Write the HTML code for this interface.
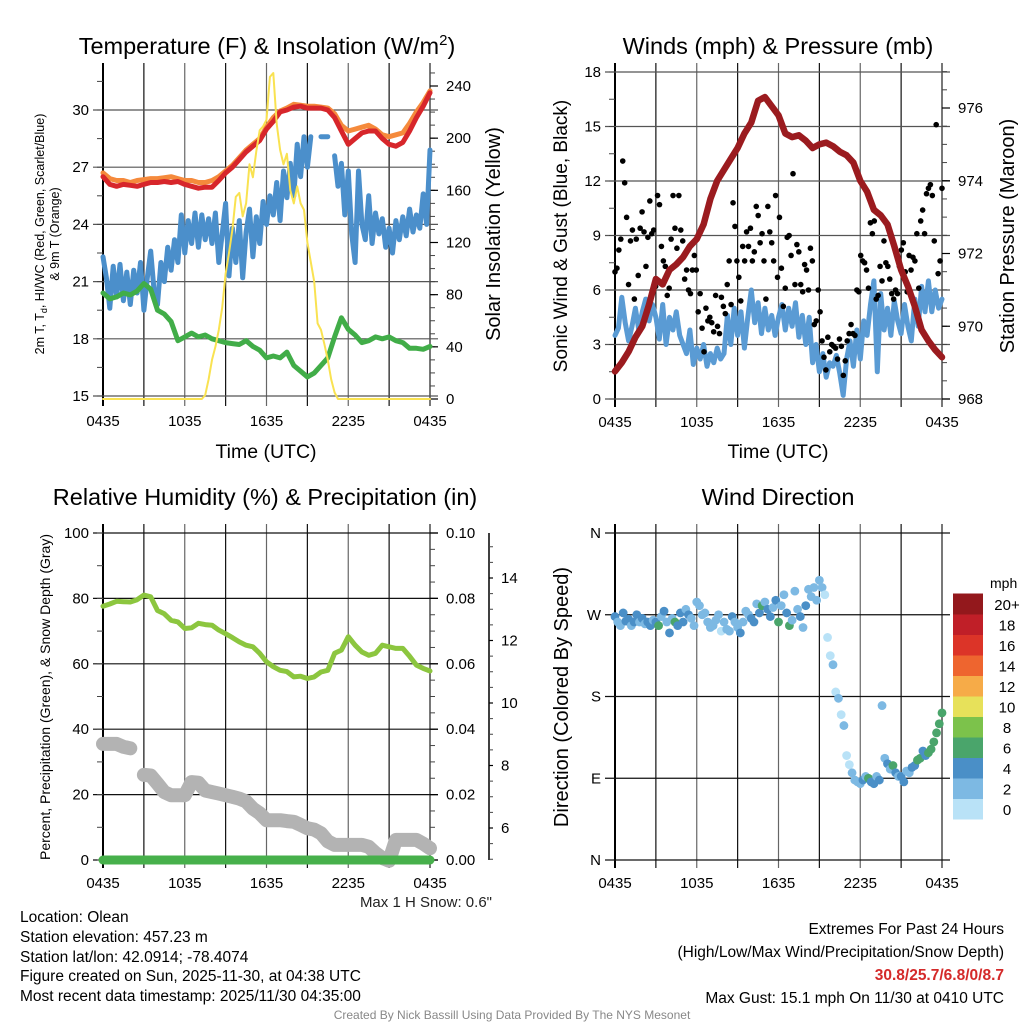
<!DOCTYPE html>
<html><head><meta charset="utf-8">
<style>
html,body{margin:0;padding:0;background:#fff;}
svg{display:block;font-family:"Liberation Sans",sans-serif;}
</style></head>
<body>
<svg id="c" width="1024" height="1024" viewBox="0 0 1024 1024">
<rect x="0" y="0" width="1024" height="1024" fill="#fff"/>
<text x="267" y="54" font-size="23.5" text-anchor="middle">Temperature (F) &amp; Insolation (W/m<tspan dy="-9" font-size="15">2</tspan><tspan dy="9">)</tspan></text>
<text x="778" y="54" font-size="23.5" text-anchor="middle">Winds (mph) &amp; Pressure (mb)</text>
<text x="265" y="505" font-size="23.5" text-anchor="middle">Relative Humidity (%) &amp; Precipitation (in)</text>
<text x="778" y="505" font-size="23.5" text-anchor="middle">Wind Direction</text>

<text x="266" y="458" font-size="19.5" text-anchor="middle">Time (UTC)</text>
<text x="778" y="458" font-size="19.5" text-anchor="middle">Time (UTC)</text>
<text transform="translate(44,234) rotate(-90)" font-size="12.5" text-anchor="middle">2m T, T<tspan dy="3" font-size="9">d</tspan><tspan dy="-3">, HI/WC (Red, Green, Scarlet/Blue)</tspan></text>
<text transform="translate(59,234) rotate(-90)" font-size="12.5" text-anchor="middle">&amp; 9m T (Orange)</text>
<text transform="translate(500,234) rotate(-90)" font-size="20" text-anchor="middle">Solar Insolation (Yellow)</text>
<text transform="translate(567,236) rotate(-90)" font-size="19" text-anchor="middle">Sonic Wind &amp; Gust (Blue, Black)</text>
<text transform="translate(1014,236) rotate(-90)" font-size="20" text-anchor="middle">Station Pressure (Maroon)</text>
<text transform="translate(50,697) rotate(-90)" font-size="14" text-anchor="middle">Percent, Precipitation (Green), &amp; Snow Depth (Gray)</text>
<text transform="translate(568,697) rotate(-90)" font-size="20" text-anchor="middle">Direction (Colored By Speed)</text>

<g id="layer"></g>

<text x="492" y="907" font-size="15" text-anchor="end" fill="#222">Max 1 H Snow: 0.6"</text>
<g font-size="15.5">
<text x="20" y="922">Location: Olean</text>
<text x="20" y="942">Station elevation: 457.23 m</text>
<text x="20" y="962">Station lat/lon: 42.0914; -78.4074</text>
<text x="20" y="981">Figure created on Sun, 2025-11-30, at 04:38 UTC</text>
<text x="20" y="1001">Most recent data timestamp: 2025/11/30 04:35:00</text>
</g>
<g font-size="15.5" text-anchor="end">
<text x="1004" y="934">Extremes For Past 24 Hours</text>
<text x="1004" y="957">(High/Low/Max Wind/Precipitation/Snow Depth)</text>
<text x="1004" y="980" fill="#d42a2a" font-weight="bold">30.8/25.7/6.8/0/8.7</text>
<text x="1004" y="1003">Max Gust: 15.1 mph On 11/30 at 0410 UTC</text>
</g>
<text x="512" y="1019" font-size="12" text-anchor="middle" fill="#888">Created By Nick Bassill Using Data Provided By The NYS Mesonet</text>
</svg>
<script>
// ---- Panel 1 data ----
const timeTickLabels = ["0435","1035","1635","2235","0435"];
const p1LeftTicks = [15,18,21,24,27,30];
const p1RightTicks = [0,40,80,120,160,200,240];
const tempRed = [26.5,26.1,26.0,26.1,26.05,26.0,26.1,26.2,26.2,26.25,26.2,26.25,26.1,26.0,25.9,25.95,25.95,26.3,26.7,27.0,27.4,27.8,28.1,28.4,29.0,29.4,29.9,30.0,30.15,30.2,30.1,30.1,30.1,30.0,29.6,28.9,28.2,28.5,28.8,28.9,28.9,28.5,28.2,28.1,28.3,28.9,29.6,30.2,30.9];
const temp9mOrange = [26.7,26.4,26.3,26.3,26.2,26.3,26.35,26.4,26.4,26.45,26.5,26.4,26.3,26.3,26.2,26.2,26.3,26.5,26.8,27.1,27.5,27.9,28.2,28.5,29.1,29.6,29.95,30.1,30.3,30.25,30.2,30.2,30.15,30.1,29.8,29.2,28.9,29.0,29.1,29.2,29.0,28.7,28.6,28.7,28.8,29.3,29.9,30.4,31.0];
const windChillBlue = [22.3,21.2,19.6,21.8,20.2,21.9,20.0,21.5,19.8,21.6,20.4,22.0,19.5,21.2,22.6,20.5,19.8,22.0,21.0,22.8,21.6,23.2,22.0,24.5,22.5,24.2,23.0,24.6,22.8,24.5,23.2,24.3,23.0,24.6,22.0,23.5,25.1,21.3,23.8,22.0,24.2,21.2,23.6,24.8,22.3,24.4,23.0,25.2,24.0,25.5,24.5,26.2,24.2,26.8,25.4,27.2,25.5,28.2,26.5,28.6,27.0,28.6,null,null,28.6,28.6,28.6,null,27.6,26.0,27.2,24.5,26.8,23.5,22.0,26.8,24.0,23.2,25.5,23.0,24.6,23.5,24.3,22.8,23.8,22.5,24.2,23.2,24.4,23.4,24.8,23.6,24.5,23.8,25.6,24.0,27.9];
const dewGreen = [20.4,20.1,20.2,20.4,20.3,20.5,20.9,20.6,19.5,19.3,18.9,17.9,18.1,18.3,18.1,18.2,18.0,17.9,17.8,17.75,17.7,17.9,17.6,17.4,17.0,17.1,17.0,17.3,16.6,16.3,16.0,16.2,16.6,17.0,18.1,19.1,18.5,18.2,17.8,17.9,18.1,18.0,18.1,17.9,17.8,17.5,17.5,17.45,17.6];
const insolation = [0,0,0,0,0,0,0,0,0,0,0,0,0,0,0,0,0,0,0,0,0,0,0,0,0,0,0,0,0,0,3,15,30,40,53,70,96,112,130,155,158,140,150,180,170,190,206,209,214,247,250,211,191,180,188,160,150,163,150,145,120,105,90,58,53,42,30,15,5,0,0,0,0,0,0,0,0,0,0,0,0,0,0,0,0,0,0,0,0,0,0,0,0,0,0,0,0];
// ---- Panel 2 data ----
const p2LeftTicks = [0,3,6,9,12,15,18];
const p2RightTicks = [968,970,972,974,976];
const pressure = [968.76,969.0,969.3,969.7,970.0,970.6,971.3,971.15,971.55,971.7,971.9,972.2,972.4,972.8,973.5,974.0,974.3,974.6,974.9,975.3,975.6,976.2,976.3,976.05,975.8,975.3,975.2,975.25,975.1,974.9,975.0,975.05,974.95,974.8,974.7,974.5,974.0,973.7,973.2,973.05,972.8,972.2,971.55,971.1,970.55,969.9,969.6,969.35,969.15];
const windSpeed = [3.5,3.9,5.6,4.2,3.2,4.0,5.0,3.8,4.8,5.5,4.3,5.2,4.5,3.3,5.2,3.0,4.5,3.8,4.8,3.5,3.0,2.5,3.8,1.9,2.8,2.2,3.0,1.8,2.5,2.0,2.8,2.2,2.5,4.6,3.0,5.0,3.5,4.8,2.8,4.5,6.0,4.2,5.3,3.6,5.0,3.8,4.6,3.5,4.5,5.2,3.8,5.0,4.0,5.3,3.4,4.6,3.0,4.5,2.0,3.0,1.5,2.5,1.2,2.0,1.8,2.4,1.4,0.2,2.2,3.2,1.8,3.8,2.2,4.3,3.5,5.2,6.5,1.5,5.8,3.8,5.0,3.5,5.4,4.3,3.6,5.2,4.0,3.2,5.5,4.0,6.2,4.8,6.5,4.8,6.0,5.0,5.5];
const windGust = [7,7.2,8.2,8.8,13.1,11.9,10,6.3,8.7,9.3,5.5,8.8,6.8,9.4,10.3,9.2,7.3,8.9,10.9,9.1,9.3,6.2,11.2,10.7,8.4,7.6,7.3,5.7,6.1,8.8,11.2,9.4,8.3,11.2,9.3,8.7,6.6,7.1,6,5.8,7.1,7.9,7.1,4.8,5.8,3.9,2.6,5,4.3,4.5,4.2,3.7,5.7,4,3.6,5.6,5.1,4.7,6.3,7.6,5.2,10.8,9.5,7.6,6.7,5.4,8.4,7.6,9.2,8.4,9.4,7.6,8.1,10.6,10.1,8.6,9.1,7.6,5.5,10.6,9.2,8.6,7.6,11.2,6.7,10,7.2,5.1,6.1,8.9,9,7.9,12.4,6.3,8.5,8.1,6.3,5.9,7.4,7.1,6.0,8.3,7.6,4.1,4.3,6.0,4.8,3.2,2.3,1.6,3.4,2.6,3.0,2.9,2.8,2.2,3.3,2.9,1.3,2.1,3.2,3.6,4.1,3.6,3.5,6.0,5.9,7.9,7.6,7.5,7.1,6.1,9.7,9.1,9.8,5.5,5.7,7.3,6.5,8.7,7.5,7.3,6.6,5.8,5.5,6.0,5.8,7.3,8.2,8.6,7.0,5.9,7.9,7.1,7.8,7.6,9.1,6.1,9.8,10.4,9.1,11.3,11.6,11.8,11.2,8.7,15.1,6.9,7.6,11.6];
// ---- Panel 3 data ----
const p3LeftTicks = [0,20,40,60,80,100];
const p3RightTicks = ["0.00","0.02","0.04","0.06","0.08","0.10"];
const snowTicks = [6,8,10,12,14];
const relHumidity = [77.6,78.3,79.1,79.0,78.9,79.6,81.0,80.5,76.3,75.3,73.3,72.8,70.8,71.0,72.4,72.0,71.8,70.3,69.2,68.0,66.7,65.7,65.2,63.2,60.6,59.1,58.0,57.6,56.0,56.2,55.5,56.0,57.5,58.0,63.2,64.2,68.3,65.7,63.6,62.6,63.2,65.7,65.2,64.7,64.7,62.3,59.6,58.6,57.8];
const snowDepth = [8.69,8.69,8.69,8.6,8.55,null,7.7,7.68,7.42,7.15,7.05,7.05,7.05,7.47,7.45,7.2,7.15,7.1,7.05,7.0,6.94,6.85,6.62,6.47,6.25,6.25,6.25,6.22,6.2,6.1,5.99,5.95,5.83,5.57,5.46,5.46,5.46,5.46,5.46,5.4,5.2,5.04,4.95,5.62,5.62,5.62,5.62,5.5,5.35];
const precip = [0,0,0,0,0,0,0,0,0,0,0,0,0,0,0,0,0,0,0,0,0,0,0,0,0,0,0,0,0,0,0,0,0,0,0,0,0,0,0,0,0,0,0,0,0,0,0,0,0];
// ---- Panel 4 data ----
const dirTickLabels = ["N","E","S","W","N"];
const windDir = [268,262,258,272,263,265,258,262,270,262,266,260,262,258,264,262,258,268,274,262,250,266,262,258,272,262,276,270,266,258,284,280,270,272,262,256,258,264,270,252,262,254,252,268,262,256,250,262,274,270,266,262,282,272,280,284,276,268,278,286,262,280,292,272,258,264,296,276,268,256,280,298,290,300,286,308,300,292,245,225,215,185,178,160,148,115,105,96,88,86,84,88,92,90,86,84,92,88,170,112,106,100,104,96,92,92,86,98,96,102,104,110,112,120,115,118,122,130,140,150,162];
const dirSpeed = [4,3,3,4,5,4,3,4,4,3,4,3,4,5,3,4,6,3,4,3,4,3,6,4,4,4,3,4,3,2,2,3,2,3,2,3,2,3,2,1,2,2,3,4,2,2,4,3,2,3,4,5,2,4,6,3,4,4,3,4,6,2,3,4,6,3,2,3,4,2,4,3,2,3,2,3,2,1,1,1,2,1,2,1,2,1,1,2,3,2,3,4,3,6,4,4,3,4,2,3,4,3,6,4,3,4,5,3,2,4,4,6,7,5,4,6,6,7,6,7,6];
const speedLegendLabels = ["0","2","4","6","8","10","12","14","16","18","20+"];
const speedColors = ["#b9e2f7","#7db9e3","#4a8fc7","#4aa56b","#7cc24b","#e7e15a","#f6ab48","#ee652f","#dc3428","#c01f28","#93181c"];

const NS = "http://www.w3.org/2000/svg";
const layer = document.getElementById("layer");
function el(tag, attrs, parent){
  const e = document.createElementNS(NS, tag);
  for (const k in attrs) e.setAttribute(k, attrs[k]);
  (parent||layer).appendChild(e);
  return e;
}
function scale(d0,d1,r0,r1){ return v => r0 + (v-d0)*(r1-r0)/(d1-d0); }

const panels = {
  p1:{x0:103,x1:430,y0:72,y1:398},
  p2:{x0:615,x1:942,y0:72,y1:399},
  p3:{x0:103,x1:430,y0:533,y1:860},
  p4:{x0:615,x1:942,y0:533,y1:860}
};

function timeX(P){ return scale(0,24,P.x0,P.x1); }

function frame(P, key){
  const xs = timeX(P);
  for (let h=0; h<=24; h+=3){
    const x = xs(h);
    const g = el("line",{x1:x,x2:x,y1:P.y0-9,y2:P.y1+8,stroke:(h%6==0)?"#666":"#111","stroke-width":1.2});
    
    
  }
  timeTickLabels.forEach((lab,i)=>{
    const t = el("text",{x:xs(i*6),y:P.y1+28,"font-size":15,"text-anchor":"middle"});
    t.textContent = lab;
    
    
  });
  const a = el("line",{x1:P.x0,x2:P.x0,y1:P.y0-9,y2:P.y1+8,stroke:"#000","stroke-width":2});
  
  
  const b = el("line",{x1:P.x1,x2:P.x1,y1:P.y0-9,y2:P.y1+8,stroke:"#555","stroke-width":1.5});
  
  
}
function hGrid(P,key,ys,vals,labels,side,dark){
  vals.forEach((v,i)=>{
    const y = ys(v);
    const l = el("line",{x1:P.x0-10,x2:P.x1+(side?8:0),y1:y,y2:y,stroke:dark?"#111":"#555","stroke-width":1.2});
    
    
    const t = el("text",{x:P.x0-14,y:y+5,"font-size":15,"text-anchor":"end"});
    t.textContent = labels[i];
    
    
  });
}
function minorTicks(x,ys,lo,hi,step,len,key){
  for (let v=lo; v<=hi+1e-9; v+=step){
    const y = ys(v);
    const m = el("line",{x1:x,x2:x+len,y1:y,y2:y,stroke:"#444","stroke-width":1});
    
    
  }
}
function rightLabels(x,ys,vals,labels,key,len){
  vals.forEach((v,i)=>{
    const y = ys(v);
    const m = el("line",{x1:x,x2:x+len,y1:y,y2:y,stroke:"#000","stroke-width":1.2});
    
    
    const t = el("text",{x:x+len+8,y:y+5,"font-size":15});
    t.textContent = labels[i];
    
    
  });
}
function linePath(P,vals,ys){
  const xs = timeX(P);
  const n = vals.length;
  let d = "", pen = false;
  vals.forEach((v,i)=>{
    if (v===null){ pen=false; return; }
    const x = xs(i*24/(n-1)), y = ys(v);
    d += (pen?"L":"M")+x.toFixed(1)+","+y.toFixed(1);
    pen = true;
  });
  return d;
}
function series(P,vals,ys,color,w,name){
  const p = el("path",{d:linePath(P,vals,ys),fill:"none",stroke:color,"stroke-width":w,"stroke-linejoin":"round","stroke-linecap":"round"});
  
  
  return p;
}

// ===== Panel 1 =====
(function(){
  const P = panels.p1;
  const yl = scale(15,30,396,110);
  const yr = scale(0,240,399,86);
  frame(P,"p1");
  hGrid(P,"p1",yl,p1LeftTicks,p1LeftTicks.map(String),true,false);
  minorTicks(P.x0-6,yl,15,31.5,1.5,6,"p1-left");
  minorTicks(P.x1,yr,0,250,10,5,"p1-right");
  rightLabels(P.x1,yr,p1RightTicks,p1RightTicks.map(String),"p1-right",8);
  series(P,temp9mOrange,yl,"#f58a3c",5,"temp-9m-line");
  series(P,tempRed,yl,"#d7262b",5,"temp-2m-line");
  series(P,windChillBlue,yl,"#4b8fcb",5,"wind-chill-line");
  const xs = timeX(P);
  windChillBlue.forEach((v,i)=>{
    const prev = windChillBlue[i-1], next = windChillBlue[i+1];
    if (v!==null && (prev===null||prev===undefined) && (next===null||next===undefined)){
      const c = el("circle",{cx:xs(i*24/(windChillBlue.length-1)),cy:yl(v),r:2.5,fill:"#4b8fcb"});
      
      
    }
  });
  series(P,dewGreen,yl,"#41ad48",5,"dewpoint-line");
  series(P,insolation,yr,"#f9e251",2,"insolation-line");
})();

// ===== Panel 2 =====
(function(){
  const P = panels.p2;
  const yl = scale(0,18,399,72);
  const yr = scale(968,976,399,108);
  frame(P,"p2");
  hGrid(P,"p2",yl,p2LeftTicks,p2LeftTicks.map(String),true,false);
  minorTicks(P.x0-6,yl,0,18,1.5,6,"p2-left");
  minorTicks(P.x1,yr,968,977,0.5,5,"p2-right");
  rightLabels(P.x1,yr,p2RightTicks,p2RightTicks.map(String),"p2-right",8);
  series(P,windSpeed,yl,"#5a9bd4",5,"sonic-wind-line");
  const xs = timeX(P);
  windGust.forEach((g,i)=>{
    const c = el("circle",{cx:xs(i*24/(windGust.length-1)),cy:yl(g),r:2.8,fill:"#000"});
    
    
  });
  series(P,pressure,yr,"#9b1b1f",6.5,"pressure-line");
})();

// ===== Panel 3 =====
(function(){
  const P = panels.p3;
  const yl = scale(0,100,860,533);
  const yp = scale(0,0.1,860,533);
  const ysn = scale(6,14,828,578);
  frame(P,"p3");
  hGrid(P,"p3",yl,p3LeftTicks,p3LeftTicks.map(String),true,true);
  minorTicks(P.x0-6,yl,0,100,10,6,"p3-left");
  minorTicks(P.x1,yp,0,0.1,0.005,5,"p3-right");
  rightLabels(P.x1,yp,p3RightTicks.map(Number),p3RightTicks,"p3-right",8);
  const ax = el("line",{x1:489,x2:489,y1:533,y2:860,stroke:"#000","stroke-width":1.5});
  
  
  minorTicks(489,ysn,5,15.4,0.5,4,"snow");
  rightLabels(489,ysn,snowTicks,snowTicks.map(String),"snow",4);
  series(P,relHumidity,yl,"#8cc63f",5,"humidity-line");
  series(P,snowDepth,ysn,"#b3b3b3",14,"snow-depth-line");
  series(P,precip,yp,"#47b04b",9,"precip-line");
})();

// ===== Panel 4 =====
(function(){
  const P = panels.p4;
  const yd = scale(0,360,860,533);
  frame(P,"p4");
  hGrid(P,"p4",yd,[0,90,180,270,360],dirTickLabels,true,true);
  const xs = timeX(P);
  windDir.forEach((d,i)=>{
    const s = dirSpeed[i];
    const idx = Math.min(10, Math.floor(s/2));
    const c = el("circle",{cx:xs(i*24/(windDir.length-1)),cy:yd(d),r:4.4,fill:speedColors[idx]});
    
    
  });
  const lx = 953, ly0 = 819, bh = 20.5;
  const mt = el("text",{x:990,y:588,"font-size":14});
  mt.textContent = "mph";
  
  
  speedLegendLabels.forEach((lab,i)=>{
    const y = ly0 - (i+1)*bh;
    const r = el("rect",{x:lx,y:y,width:30,height:bh+0.5,fill:speedColors[i]});
    
    
    const t = el("text",{x:1007,y:y+bh/2+6,"font-size":15,"text-anchor":"middle"});
    t.textContent = lab;
    
    
  });
})();
</script>
</body></html>
